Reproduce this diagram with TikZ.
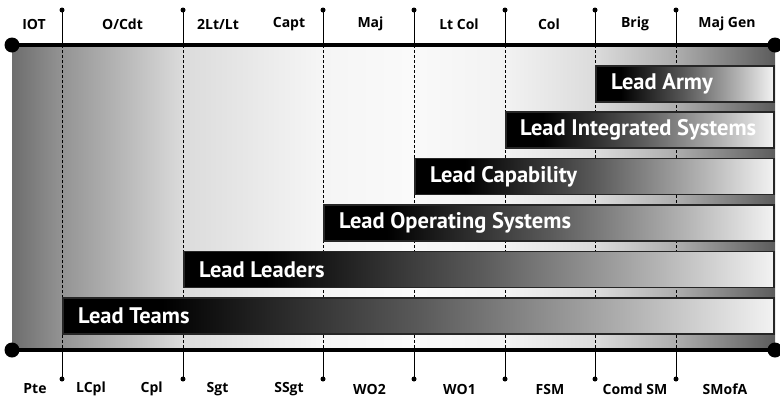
\documentclass[tikz,border=0pt]{standalone}
\usepackage{fontspec}
\setmainfont{PT Sans}
\newfontfamily\rankfont{Open Sans}
\usetikzlibrary{calc}

% grey field behind the bars: dark at both ends, white in the middle
\pgfdeclarehorizontalshading{field}{100bp}{%
  color(0bp)=(black!57); color(25bp)=(black!57);
  color(28.3bp)=(black!42); color(36.2bp)=(black!14);
  color(45bp)=(black!4); color(51bp)=(black!2);
  color(57.3bp)=(black!5); color(63.2bp)=(black!14);
  color(68.5bp)=(black!32); color(75bp)=(black!64);
  color(100bp)=(black!64)}
% bar fill: solid black on the left fading to near white
\pgfdeclarehorizontalshading{barfill}{100bp}{%
  color(0bp)=(black); color(25bp)=(black); color(32bp)=(black);
  color(50bp)=(black!65); color(65bp)=(black!30);
  color(75bp)=(black!5); color(100bp)=(black!5)}

\begin{document}
\begin{tikzpicture}[x=1pt,y=-1pt,
  rail/.style={line width=4.5pt},
  bigdot/.style={fill=black},
  tick/.style={line width=1pt},
  grid/.style={line width=0.8pt, dash pattern=on 3pt off 2pt},
  smalldot/.style={circle, fill=black, inner sep=0pt, minimum size=5pt},
  rank/.style={font=\rankfont\bfseries\fontsize{14}{14}\selectfont, inner sep=0pt},
  bar/.style={shading=barfill, draw=black!85, line width=1.5pt,
    minimum height=36pt, inner sep=0pt, anchor=north west},
  barlabel/.style={text=white, font=\bfseries\fontsize{22.5}{22.5}\selectfont,
    inner sep=0pt, anchor=west}]
\useasboundingbox (0,0) rectangle (780,397);

% shaded field between the two rails
\node[shading=field, minimum width=763pt, minimum height=305pt, inner sep=0pt,
  anchor=north west] (field) at (12,45) {};

% division lines: solid stalks outside the rails, dashed inside
\foreach \i/\x in {1/62,2/183,3/323,4/414,5/505,6/595,7/676}{
  \node[smalldot] (t\i) at (\x,10) {};
  \coordinate (a\i) at (\x,45);
  \coordinate (b\i) at (\x,350);
  \node[smalldot] (d\i) at (\x,379) {};
  \draw[tick] (t\i.center) -- (a\i);
  \draw[grid] (a\i) -- (b\i);
  \draw[tick] (b\i) -- (d\i.center);
}

% rails with their end dots
\coordinate (tl) at (12,45); \coordinate (tr) at (775,45);
\coordinate (bl) at (12,350); \coordinate (br) at (775,350);
\draw[rail] (tl) -- (tr);
\draw[rail] (bl) -- (br);
\foreach \c in {tl,tr,bl,br} \fill[bigdot] (\c) circle (7.5pt);

% leadership bars
\node[bar, minimum width=178pt] (army) at (595,65) {};
\node[bar, minimum width=268pt] (integ) at (505,111.4) {};
\node[bar, minimum width=359pt] (capab) at (414,157.8) {};
\node[bar, minimum width=450pt] (opsys) at (323,204.2) {};
\node[bar, minimum width=590pt] (leaders) at (183,250.6) {};
\node[bar, minimum width=711pt] (teams) at (62,297) {};

\node[barlabel] (armyL) at ([xshift=16pt]army.west) {Lead Army};
\node[barlabel] (integL) at ([xshift=15pt]integ.west) {Lead Integrated Systems};
\node[barlabel] (capabL) at ([xshift=16pt]capab.west) {Lead Capability};
\node[barlabel] (opsysL) at ([xshift=16pt]opsys.west) {Lead Operating Systems};
\node[barlabel] (leadersL) at ([xshift=16pt]leaders.west) {Lead Leaders};
\node[barlabel] (teamsL) at ([xshift=16pt]teams.west) {Lead Teams};

% officer ranks along the top
\foreach \n/\x/\t in {o1/34/IOT, o2/122.5/{O/Cdt}, o3/218/{2Lt/Lt}, o4/289/Capt,
  o5/370.5/Maj, o6/459/Lt Col, o7/549/Col, o8/635/Brig, o9/727/Maj Gen}
  \node[rank] (\n) at (\x,24) {\t};

% soldier ranks along the bottom
\foreach \n/\x/\t in {s1/35/Pte, s2/91/LCpl, s3/151.7/Cpl, s4/217.5/Sgt,
  s5/289/SSgt, s6/369.5/WO2, s7/459.5/WO1, s8/550/FSM, s9/635/Comd SM,
  s10/725/SMofA}
  \node[rank] (\n) at (\x,389) {\t};
\end{tikzpicture}
\end{document}
